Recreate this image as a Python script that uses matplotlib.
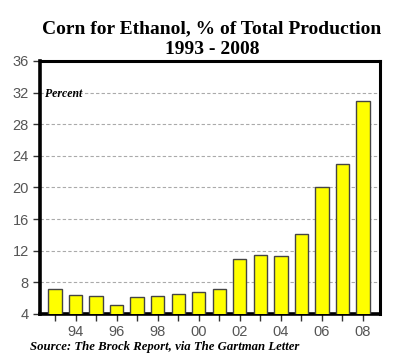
import numpy as np
import matplotlib
matplotlib.use("Agg")
import matplotlib.pyplot as plt

years = np.arange(1993, 2009)
share = [7.15, 6.4, 6.3, 5.2, 6.15, 6.3, 6.55, 6.8, 7.1, 11.0, 11.5, 11.3, 14.1, 20.0, 23.0, 30.9]
yticks = [4, 8, 12, 16, 20, 24, 28, 32, 36]
xlabel_years = np.arange(1994, 2009, 2)

fig = plt.figure(figsize=(4, 3.62), dpi=100)
ax = fig.add_axes([0.1, 0.1326, 0.85, 0.699])

ax.bar(years, share, width=0.65, color="#ffff00", edgecolor="#444444", lw=1, zorder=3)

ax.set_xlim(1992.27, 2008.83)
ax.set_ylim(4, 36)
ax.set_yticks(yticks)
ax.set_yticklabels([str(v) for v in yticks])
ax.set_xticks(years)
ax.set_xticklabels([f"{y % 100:02d}" if y in xlabel_years else "" for y in years])
for v in yticks[1:-1]:
    ax.axhline(v, color="#aaaaaa", lw=0.8, ls=(0, (3, 2)), zorder=1)

for side in ["left", "bottom"]:
    ax.spines[side].set_linewidth(2.6)
for side in ["top", "right"]:
    ax.spines[side].set_linewidth(2.2)
ax.tick_params(axis="both", length=5, width=1, color="#333333",
               labelsize=10.5, labelcolor="#555555", pad=3)

sans = ["Liberation Sans", "DejaVu Sans"]
for lab in ax.get_xticklabels() + ax.get_yticklabels():
    lab.set_family(sans)

serif = ["Liberation Serif", "DejaVu Serif"]
fig.text(0.53, 0.92, "Corn for Ethanol, % of Total Production", ha="center", va="center",
         family=serif, weight="bold", size=14)
fig.text(0.53, 0.862, "1993 - 2008", ha="center", va="center",
         family=serif, weight="bold", size=14)
ax.text(0.014, 0.87, "Percent", transform=ax.transAxes, family=serif, weight="bold",
        style="italic", size=8.5, va="center")
fig.text(0.075, 0.041, "Source: The Brock Report, via The Gartman Letter",
         family=serif, weight="bold", style="italic", size=9.2, va="center")

fig.savefig("out.png", dpi=100)
